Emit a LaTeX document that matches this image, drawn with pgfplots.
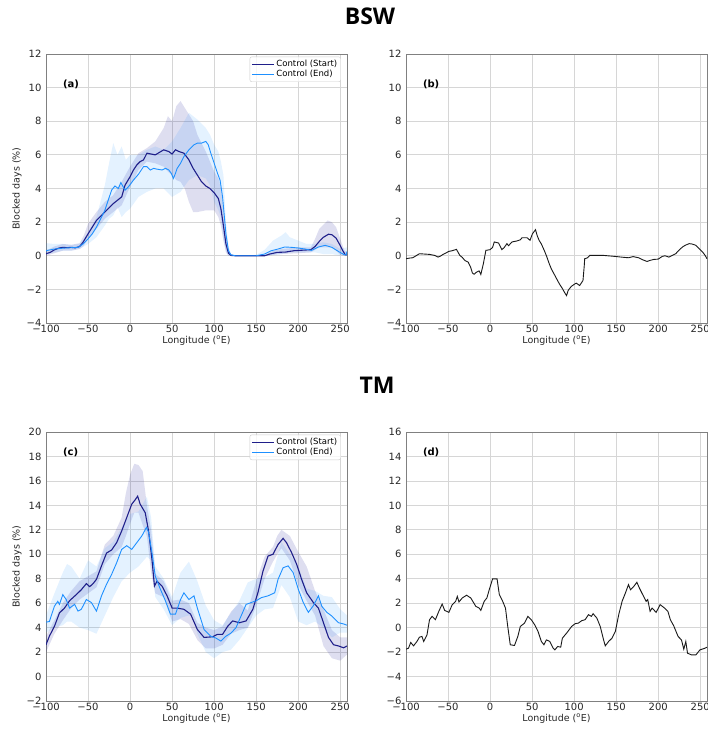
\documentclass[border=0pt]{standalone}
\usepackage{fontspec}
\setmainfont{DejaVu Sans}
\newfontfamily\titlefont{Open Sans}
\usepackage{pgfplots}
\usepackage{pgfplotstable}
\pgfplotsset{compat=1.18}
\usepgfplotslibrary{fillbetween}

\definecolor{startc}{HTML}{1F1F8A}
\definecolor{endc}{HTML}{1E90FF}
\definecolor{bandS}{HTML}{00008B}
\definecolor{gridc}{HTML}{D6D6D6}
\definecolor{spinec}{HTML}{808080}

% ---- panel (a): BSW ----
\pgfplotstableread{
lon val
-100 0.12
-95 0.2
-90 0.35
-85 0.45
-80 0.5
-75 0.48
-70 0.5
-65 0.47
-60 0.55
-56 0.8
-50 1.3
-45 1.7
-40 2.1
-35 2.35
-30 2.6
-25 2.85
-20 3.1
-15 3.3
-10 3.5
-6 4.2
0 4.7
4 5.1
8 5.4
12 5.6
16 5.7
20 6.1
25 6.05
30 6.0
35 6.15
40 6.3
46 6.2
50 6.05
54 6.3
58 6.2
64 6.1
70 5.7
75 5.2
80 4.8
85 4.4
90 4.15
95 4.0
100 3.75
105 3.4
108 2.8
111 1.8
114 0.7
117 0.15
120 0.02
125 0
160 0
166 0.1
175 0.2
185 0.22
195 0.3
205 0.33
215 0.36
220 0.55
225 0.85
230 1.1
236 1.28
240 1.25
245 1.05
250 0.6
253 0.3
256 0.05
258 0.05
}\aStart

\pgfplotstableread{
lon val
-100 0.3
-90 0.4
-80 0.45
-70 0.48
-62 0.5
-56 0.7
-50 1.0
-45 1.3
-40 1.7
-35 2.2
-30 2.7
-26 3.3
-22 3.9
-18 4.15
-14 4.0
-11 4.35
-6 3.9
-2 4.1
4 4.5
10 4.85
16 5.3
20 5.3
24 5.1
28 5.2
32 5.15
38 5.1
42 5.2
46 5.1
49 4.9
51.5 4.6
54 4.9
56 5.2
60 5.5
64 5.9
70 6.3
76 6.6
80 6.7
85 6.7
90 6.8
93 6.6
96 6.1
100 5.5
104 4.9
107 4.5
110 3.5
112 2.4
114 1.3
117 0.3
120 0.05
125 0
150 0
160 0.1
168 0.3
176 0.4
184 0.52
192 0.5
200 0.46
208 0.4
216 0.32
224 0.52
232 0.62
240 0.5
248 0.25
254 0.08
257 0.05
258 0.25
}\aEnd

\pgfplotstableread{
lon lo hi
-100 0.0 0.3
-90 0.15 0.55
-80 0.3 0.7
-70 0.3 0.65
-60 0.4 0.75
-55 0.6 1.2
-50 1.0 1.9
-40 1.6 2.6
-30 2.2 3.2
-20 2.6 3.6
-10 3.0 4.4
0 4.1 5.3
10 5.1 6.1
20 5.6 6.4
30 5.5 6.8
40 5.3 7.6
45 5.0 8.3
50 4.8 8.0
55 4.5 8.9
60 4.4 9.2
65 4.0 8.8
70 3.2 8.4
75 2.6 8.0
80 2.6 7.2
90 2.7 6.2
100 2.7 5.0
105 2.3 4.6
108 1.8 4.0
111 0.9 3.0
114 0.2 1.3
117 0.0 0.4
120 0 0.08
130 0 0
160 0 0.02
170 0.05 0.3
180 0.1 0.4
200 0.15 0.5
215 0.2 0.5
220 0.35 1.0
225 0.5 1.6
235 0.5 2.1
240 0.5 2.0
245 0.3 1.7
250 0.05 1.0
255 0.0 0.3
258 0.0 0.2
}\aStartBand

\pgfplotstableread{
lon lo hi
-100 0.1 0.75
-90 0.2 0.7
-80 0.3 0.7
-70 0.3 0.65
-60 0.4 0.7
-55 0.55 1.0
-50 0.7 1.4
-40 1.1 2.3
-30 1.8 4.2
-25 2.2 5.5
-20 2.4 6.7
-15 2.9 6.0
-10 2.3 6.5
-5 2.6 5.7
0 2.8 6.0
10 3.5 6.0
20 3.8 6.3
30 4.0 6.5
40 4.0 6.3
50 3.5 6.8
60 3.8 7.6
70 4.5 8.5
80 4.8 8.1
90 4.6 7.6
95 4.2 7.2
100 3.2 6.6
105 2.7 6.2
108 2.3 5.6
111 1.0 4.8
114 0.3 2.0
117 0.0 0.6
120 0 0.1
130 0 0
150 0 0.05
160 0 0.35
170 0.05 0.9
180 0.1 1.2
185 0.15 1.4
190 0.2 1.1
200 0.2 0.9
210 0.2 0.7
220 0.2 0.7
230 0.1 0.8
240 0.1 0.7
250 0.0 0.4
258 0.0 0.5
}\aEndBand

% ---- panel (b): BSW difference ----
\pgfplotstableread{
lon val
-100 -0.18
-96 -0.14
-92 -0.12
-88 0.0
-84 0.12
-78 0.1
-72 0.08
-66 0.02
-62 -0.08
-59 -0.02
-56 0.08
-52 0.18
-49 0.26
-45 0.3
-40 0.38
-38 0.2
-36 0.02
-33 -0.1
-30 -0.28
-26 -0.38
-23 -0.7
-21 -1.03
-19 -1.1
-16 -0.97
-13 -0.9
-11 -1.11
-8 -0.48
-5 0.32
0 0.36
3 0.5
5 0.82
10 0.76
14 0.36
17 0.5
20 0.72
22 0.6
26 0.82
32 0.88
36 0.95
38 1.07
44 1.07
47.5 0.92
50.4 1.31
54 1.55
56 1.2
58.4 0.91
61 0.7
64.4 0.32
67 0.0
70.4 -0.48
73 -0.8
76.4 -1.11
80 -1.45
82.4 -1.67
86 -1.95
88.4 -2.17
90.9 -2.37
93 -2.05
96.5 -1.83
100 -1.7
102.5 -1.63
106.5 -1.77
110.5 -1.47
112 -0.6
112.5 -0.18
116 -0.12
118.5 0.02
124.5 0.02
135 0.02
148.6 -0.04
156 -0.08
164.6 -0.12
170 -0.05
176.7 -0.12
182 -0.25
186.7 -0.34
190 -0.28
194.7 -0.22
200 -0.2
204.7 -0.04
208 0.0
212.7 -0.08
216 0.0
220.8 0.12
224 0.3
228.8 0.52
232 0.62
236.8 0.72
240 0.7
244.8 0.62
248 0.45
252.8 0.22
256 0.0
258 -0.18
}\bDiff

% ---- panel (c): TM ----
\pgfplotstableread{
lon val
-100 2.6
-96 3.3
-90 4.1
-84 5.2
-78 5.6
-72 6.2
-64 6.7
-58 7.1
-52 7.6
-48 7.35
-44 7.6
-40 7.95
-34 9.05
-28 10.1
-22 10.35
-16 10.95
-10 11.9
-4 13.0
2 14.1
6 14.45
9 14.75
12 14.1
18 13.4
22 11.9
26 9.6
29 7.4
32 7.8
38 7.4
44 6.6
50 5.6
56 5.6
64 5.5
72 5.1
80 3.85
88 3.2
98 3.25
104 3.45
110 3.45
116 4.1
122 4.55
130 4.4
138 4.55
146 5.5
152 6.85
158 8.6
164 9.85
170 10.0
176 10.8
182 11.3
186 10.95
192 10.15
198 9.2
204 7.95
210 6.85
218 6.05
224 5.6
230 4.4
236 3.2
242 2.6
248 2.5
254 2.35
258 2.5
}\cStart

\pgfplotstableread{
lon val
-100 4.45
-96 4.5
-90 5.75
-86 6.15
-84 5.9
-80 6.7
-76 6.3
-72 5.6
-66 5.9
-62 5.35
-58 5.5
-52 6.3
-46 6.05
-40 5.35
-34 6.6
-28 7.55
-22 8.35
-16 9.3
-10 10.4
-4 10.7
2 10.4
8 10.95
14 11.5
19.5 12.2
22 11.8
26 10.15
30 8.2
36 7.15
42 6.2
48 5.1
54 5.1
60 6.3
64 6.85
70 6.3
76 6.6
80 5.6
88 3.85
96 3.3
102 3.15
108 2.9
114 3.3
120 3.55
126 4.0
132 4.95
138 5.9
144 6.05
150 6.2
156 6.45
164 6.6
172 6.85
176 7.95
182 8.9
188 9.05
194 8.5
200 7.15
206 6.05
212 5.25
218 5.8
224 6.6
228 5.75
234 5.25
240 4.95
248 4.4
254 4.3
258 4.2
}\cEnd

\pgfplotstableread{
lon lo hi
-100 2.0 3.3
-90 3.5 4.6
-80 4.6 6.0
-70 5.6 7.0
-60 6.3 7.8
-50 6.8 8.2
-40 7.3 8.6
-30 9.2 10.8
-20 10.0 11.5
-10 10.6 13.0
-5 11.5 15.0
0 12.5 16.5
5 13.4 17.4
10 13.4 17.3
15 12.4 16.8
20 11.5 14.0
25 8.5 12.0
30 6.8 8.4
40 6.5 7.8
50 4.5 6.2
60 4.7 6.3
70 4.3 6.0
80 3.0 4.4
90 2.3 4.0
100 2.3 3.8
110 2.6 4.1
120 3.5 5.3
130 3.8 6.0
140 4.0 5.4
150 5.8 7.8
160 8.0 9.8
170 9.4 10.6
175 10.0 11.5
180 10.5 12.0
190 9.5 11.5
200 7.5 10.2
210 6.2 9.0
220 5.0 7.0
230 2.5 5.5
240 1.5 3.8
250 1.3 3.2
258 1.8 3.2
}\cStartBand

\pgfplotstableread{
lon lo hi
-100 3.6 5.0
-90 4.0 6.8
-80 4.2 8.5
-75 4.5 9.2
-70 4.5 9.0
-60 4.0 8.0
-50 3.8 9.5
-40 3.5 9.0
-30 5.0 10.5
-20 6.5 11.0
-10 7.8 12.2
0 8.5 13.3
10 9.0 13.5
20 9.8 14.7
25 9.5 13.0
30 6.5 9.0
40 5.5 8.0
50 4.2 6.5
60 4.8 8.5
70 5.0 9.4
75 4.9 8.6
80 3.5 7.8
90 2.0 5.8
100 1.5 4.6
110 2.0 4.2
120 2.2 5.2
130 3.0 6.2
140 4.0 7.7
150 5.0 8.0
160 5.5 8.1
170 5.6 8.5
180 7.5 11.0
190 6.5 10.0
200 4.5 9.0
210 4.2 7.2
220 4.5 7.0
230 4.0 6.6
240 3.2 6.5
250 3.6 5.5
258 3.6 5.0
}\cEndBand

% ---- panel (d): TM difference ----
\pgfplotstableread{
lon val
-100 -1.76
-97 -1.68
-94.4 -1.21
-91 -1.49
-87 -1.13
-84 -0.78
-81 -0.72
-79 -1.13
-75 -0.58
-72 0.65
-69 0.92
-65 0.65
-61 1.33
-57 1.93
-54 1.41
-49 1.25
-45 1.88
-41 2.15
-39 2.56
-37 2.1
-33 2.43
-28 2.65
-23 2.43
-17 1.74
-13 1.6
-11 1.41
-7 2.15
-3.8 2.43
-1 3.1
3 3.99
8.3 3.99
11 2.7
15 2.15
18.3 1.6
21 0.1
24 -1.4
29 -1.46
33 -0.72
36 0.1
41 0.37
45 0.92
49 0.65
53 0.24
57 -0.31
61 -1.13
64 -1.4
67 -1.0
71 -1.13
75 -1.68
77 -1.82
80.4 -1.54
84 -1.6
86 -0.86
91 -0.45
97 0.1
101 0.32
105 0.37
109 0.57
113 0.65
117 1.06
120.5 0.92
122.5 1.14
127 0.78
131 0.1
135 -1.0
137 -1.49
141 -1.13
145 -0.86
149 -0.31
153 1.06
157 2.15
161 2.84
164.6 3.52
167 3.1
171 3.38
174.6 3.71
177.5 3.25
181.5 2.7
185.5 2.15
187.5 2.29
190.3 1.33
192.7 1.6
197.5 1.25
202.3 1.88
207.5 1.6
211.5 1.33
214.4 0.65
218.4 0.15
223.6 -0.72
227.6 -1.0
230.4 -1.76
232.8 -1.13
234.8 -2.09
239.6 -2.23
244.8 -2.23
249.6 -1.82
255.7 -1.68
258 -1.6
}\dDiff

\pgfplotsset{
  panel/.style={
    scale only axis, width=301pt, height=269pt,
    xmin=-100, xmax=258,
    xtick={-100,-50,0,50,100,150,200,250},
    xticklabels={−100,−50,0,50,100,150,200,250},
    grid=major, major grid style={gridc, line width=0.8pt},
    axis line style={spinec, line width=0.9pt},
    major tick length=0pt,
    tick label style={font=\fontsize{10}{12}\selectfont, text=black!85},
    xticklabel style={yshift=1pt},
    yticklabel style={xshift=-1pt},
    xlabel={Longitude (\textsuperscript{o}E)},
    every axis x label/.style={at={(axis description cs:0.5,0)}, anchor=center, yshift=-18pt, font=\fontsize{9.5}{11}\selectfont, text=black!85},
    every axis y label/.style={at={(axis description cs:-0.096,0.5)}, rotate=90, anchor=center, font=\fontsize{9.5}{11}\selectfont, text=black!85},
    legend style={at={(rel axis cs:0.98,0.99)}, anchor=north east,
      font=\fontsize{8.5}{10}\selectfont, draw=black!20, rounded corners=2pt,
      fill=white, fill opacity=0.8, text opacity=1, inner sep=1.5pt, row sep=-2pt},
    legend cell align=left,
    legend image code/.code={\draw[#1] (0pt,0pt) -- (22pt,0pt);},
  },
  ylab/.style={ylabel={Blocked days (\%)}},
  bandplot/.style={draw=none, forget plot},
}

\newcommand{\panellabel}[3]{\node[anchor=west, inner sep=0pt, font=\bfseries\fontsize{10}{12}\selectfont] at (axis cs:#1,#2) {#3};}

\begin{document}
\begin{tikzpicture}

\node[font=\titlefont\bfseries\fontsize{23}{26}\selectfont] at (370pt,715pt) {BSW};
\node[font=\titlefont\bfseries\fontsize{23}{26}\selectfont] at (377pt,346pt) {TM};

% (a)
\begin{axis}[panel, ylab, at={(46pt,408pt)}, anchor=south west,
  ymin=-4, ymax=12, ytick={-4,-2,...,12},
  yticklabels={−4,−2,0,2,4,6,8,10,12}]
\addplot[bandplot, name path=aSh] table[x=lon,y=hi]{\aStartBand};
\addplot[bandplot, name path=aSl] table[x=lon,y=lo]{\aStartBand};
\addplot[bandS, fill opacity=0.13, forget plot] fill between[of=aSh and aSl];
\addplot[bandplot, name path=aEh] table[x=lon,y=hi]{\aEndBand};
\addplot[bandplot, name path=aEl] table[x=lon,y=lo]{\aEndBand};
\addplot[endc, fill opacity=0.12, forget plot] fill between[of=aEh and aEl];
\addplot[startc, line width=1.1pt] table[x=lon,y=val]{\aStart};
\addlegendentry{Control (Start)}
\addplot[endc, line width=0.9pt] table[x=lon,y=val]{\aEnd};
\addlegendentry{Control (End)}
\panellabel{-80}{10.2}{(a)}
\end{axis}

% (b)
\begin{axis}[panel, at={(406pt,408pt)}, anchor=south west,
  ymin=-4, ymax=12, ytick={-4,-2,...,12},
  yticklabels={−4,−2,0,2,4,6,8,10,12}]
\addplot[black!90, line width=0.9pt] table[x=lon,y=val]{\bDiff};
\panellabel{-80}{10.2}{(b)}
\end{axis}

% (c)
\begin{axis}[panel, ylab, at={(46pt,30pt)}, anchor=south west,
  ymin=-2, ymax=20, ytick={-2,0,...,20},
  yticklabels={−2,0,2,4,6,8,10,12,14,16,18,20}]
\addplot[bandplot, name path=cSh] table[x=lon,y=hi]{\cStartBand};
\addplot[bandplot, name path=cSl] table[x=lon,y=lo]{\cStartBand};
\addplot[bandS, fill opacity=0.13, forget plot] fill between[of=cSh and cSl];
\addplot[bandplot, name path=cEh] table[x=lon,y=hi]{\cEndBand};
\addplot[bandplot, name path=cEl] table[x=lon,y=lo]{\cEndBand};
\addplot[endc, fill opacity=0.12, forget plot] fill between[of=cEh and cEl];
\addplot[startc, line width=1.1pt] table[x=lon,y=val]{\cStart};
\addlegendentry{Control (Start)}
\addplot[endc, line width=0.9pt] table[x=lon,y=val]{\cEnd};
\addlegendentry{Control (End)}
\panellabel{-80}{18.3}{(c)}
\end{axis}

% (d)
\begin{axis}[panel, at={(406pt,30pt)}, anchor=south west,
  ymin=-6, ymax=16, ytick={-6,-4,...,16},
  yticklabels={−6,−4,−2,0,2,4,6,8,10,12,14,16}]
\addplot[black!90, line width=0.9pt] table[x=lon,y=val]{\dDiff};
\panellabel{-80}{14.3}{(d)}
\end{axis}

\pgfresetboundingbox
\useasboundingbox (0pt,0pt) rectangle (708pt,731pt);
\end{tikzpicture}
\end{document}
